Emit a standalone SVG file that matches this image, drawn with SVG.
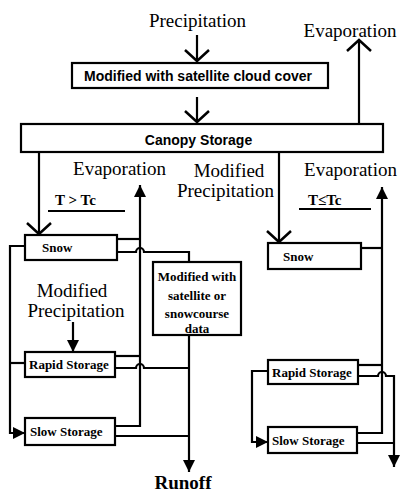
<svg xmlns="http://www.w3.org/2000/svg" width="400" height="495" viewBox="0 0 400 495">
<style>
.bx{fill:#fff;stroke:#000;stroke-width:2.2}
.ln{fill:none;stroke:#000;stroke-width:2.2}
.big{font-family:"Liberation Serif","Times New Roman",serif;font-size:19px;fill:#000}
.lbl{font-family:"Liberation Serif","Times New Roman",serif;font-weight:bold;font-size:13px;fill:#000}
.sans{font-family:"Liberation Sans",Arial,sans-serif;font-weight:bold;font-size:14px;fill:#000}
.tl{font-family:"Liberation Serif","Times New Roman",serif;font-weight:bold;font-size:15px;fill:#000}
.mid{text-anchor:middle}
</style>
<defs>
<marker id="tri" markerUnits="userSpaceOnUse" markerWidth="12" markerHeight="12" viewBox="0 0 12 12" refX="12" refY="6" orient="auto"><path d="M0,0 L12,6 L0,12 z" fill="#000"/></marker>
<marker id="chev" markerUnits="userSpaceOnUse" markerWidth="16" markerHeight="30" viewBox="-14 -15 16 30" refX="0" refY="0" orient="auto"><path d="M-11,-12 L0,0 L-11,12" fill="none" stroke="#000" stroke-width="2.5"/></marker>
</defs>
<rect width="400" height="495" fill="#fff"/>
<g id="connectors">
<path class="ln" d="M197,35 V61" marker-end="url(#chev)"/>
<path class="ln" d="M197,97 V122" marker-end="url(#chev)"/>
<path class="ln" d="M359,124 V40" marker-end="url(#chev)"/>
<path class="ln" d="M39,152 V234" marker-end="url(#chev)"/>
<path class="ln" d="M279,152 V242" marker-end="url(#chev)"/>
<path class="ln" d="M115,426 H140 V185" marker-end="url(#tri)"/>
<path class="ln" d="M117,239 H140"/>
<path class="ln" d="M115,356 H140"/>
<path class="ln" d="M117,252 H136 a4,4 0 0 1 8,0 H189 V262"/>
<path class="ln" d="M115,368 H136 a4,4 0 0 1 8,0 H189"/>
<path class="ln" d="M115,436 H189"/>
<path class="ln" d="M189,335 V472" marker-end="url(#tri)"/>
<path class="ln" d="M25,246 H10 V433 H25" marker-end="url(#tri)"/>
<path class="ln" d="M10,363 H25"/>
<path class="ln" d="M73,322 V352" marker-end="url(#tri)"/>
<path class="ln" d="M361,248 H382"/>
<path class="ln" d="M357,433 H382 V187" marker-end="url(#tri)"/>
<path class="ln" d="M358,365 H382"/>
<path class="ln" d="M358,376 H378 a4,4 0 0 1 8,0 H394 V467" marker-end="url(#tri)"/>
<path class="ln" d="M357,443 H394"/>
<path class="ln" d="M268,371 H252 V442 H268" marker-end="url(#tri)"/>
</g>
<g id="precipitation"><text class="big mid" x="197.5" y="27">Precipitation</text></g>
<g id="evaporation-top"><text class="big mid" x="350" y="37">Evaporation</text></g>
<g id="cloud-cover"><rect class="bx" x="72" y="63" width="256" height="25"/><text class="sans mid" x="198" y="81">Modified with satellite cloud cover</text></g>
<g id="canopy"><rect class="bx" x="21" y="124" width="362" height="28"/><text class="sans mid" x="198.5" y="145">Canopy Storage</text></g>
<g id="evaporation-left"><text class="big mid" x="119.5" y="175">Evaporation</text></g>
<g id="cond-left"><text class="tl" x="55" y="205">T &gt; Tc</text><path class="ln" d="M48,211 H125"/></g>
<g id="snow-left"><rect class="bx" x="25" y="235" width="92" height="25"/><text class="lbl" x="42" y="252">Snow</text></g>
<g id="modprecip-left"><text class="big mid" x="72" y="297">Modified</text><text class="big mid" x="76" y="317">Precipitation</text></g>
<g id="snowcourse"><rect class="bx" x="153" y="262" width="88" height="73"/><text class="lbl mid" x="197" y="281">Modified with</text><text class="lbl mid" x="197" y="300">satellite or</text><text class="lbl mid" x="197" y="318">snowcourse</text><text class="lbl mid" x="197" y="333">data</text></g>
<g id="rapid-left"><rect class="bx" x="25" y="352" width="90" height="25"/><text class="lbl" x="29" y="369">Rapid Storage</text></g>
<g id="slow-left"><rect class="bx" x="25" y="418" width="90" height="27"/><text class="lbl" x="30" y="436">Slow Storage</text></g>
<g id="runoff"><text class="big mid" x="183" y="489" font-weight="bold">Runoff</text></g>
<g id="modprecip-right"><text class="big mid" x="229" y="177">Modified</text><text class="big mid" x="225.5" y="197">Precipitation</text></g>
<g id="evaporation-right"><text class="big mid" x="350.5" y="176">Evaporation</text></g>
<g id="cond-right"><text class="tl" x="308" y="205">T≤Tc</text><path class="ln" d="M299,209 H371"/></g>
<g id="snow-right"><rect class="bx" x="268" y="243" width="93" height="26"/><text class="lbl" x="283" y="261">Snow</text></g>
<g id="rapid-right"><rect class="bx" x="268" y="360" width="90" height="24"/><text class="lbl" x="272" y="376.5">Rapid Storage</text></g>
<g id="slow-right"><rect class="bx" x="268" y="427" width="89" height="26"/><text class="lbl" x="272" y="444.5">Slow Storage</text></g>
</svg>
